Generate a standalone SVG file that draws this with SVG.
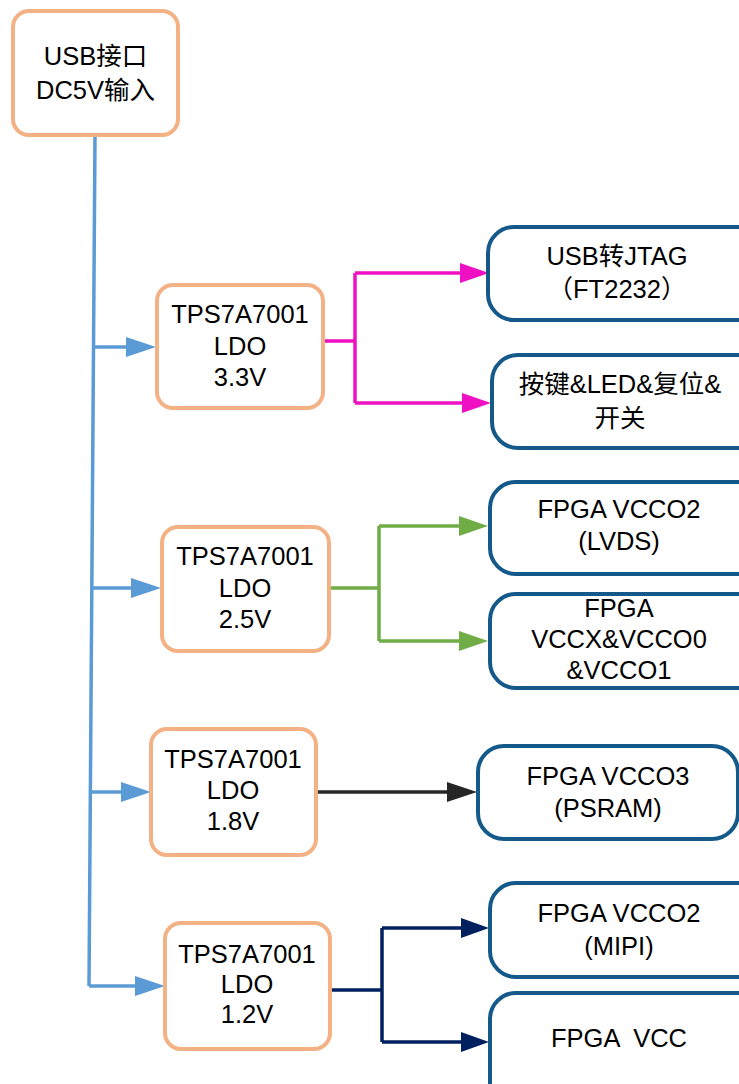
<svg xmlns="http://www.w3.org/2000/svg" width="739" height="1084" viewBox="0 0 739 1084">
<style>
.ldo{fill:#fff;stroke:#F4B183;stroke-width:4}
.tgt{fill:#fff;stroke:#15598A;stroke-width:4}
text{font-family:"Liberation Sans","Noto Sans CJK SC",sans-serif;font-size:25.5px;fill:#000;text-anchor:middle;white-space:pre}
.c{fill:none;stroke-width:3.5}
</style>
<defs>
<marker id="aBlue" markerUnits="userSpaceOnUse" markerWidth="30" markerHeight="20" refX="0" refY="10" orient="auto" overflow="visible"><path d="M0,0 L30,10 L0,20 z" fill="#5B9BD5"/></marker>
<marker id="aPink" markerUnits="userSpaceOnUse" markerWidth="30" markerHeight="20" refX="0" refY="10" orient="auto" overflow="visible"><path d="M0,0 L29,10 L0,20 z" fill="#EE10C2"/></marker>
<marker id="aGreen" markerUnits="userSpaceOnUse" markerWidth="30" markerHeight="20" refX="0" refY="10" orient="auto" overflow="visible"><path d="M0,0 L29,10 L0,20 z" fill="#70AD47"/></marker>
<marker id="aBlack" markerUnits="userSpaceOnUse" markerWidth="30" markerHeight="20" refX="0" refY="10" orient="auto" overflow="visible"><path d="M0,0 L30,10 L0,20 z" fill="#262626"/></marker>
<marker id="aNavy" markerUnits="userSpaceOnUse" markerWidth="30" markerHeight="20" refX="0" refY="10" orient="auto" overflow="visible"><path d="M0,0 L28,10 L0,20 z" fill="#002060"/></marker>
</defs>
<g id="connectors">
<path class="c" stroke="#5B9BD5" d="M95,136 L89,986"/>
<path class="c" stroke="#5B9BD5" d="M94.4,347 H126" marker-end="url(#aBlue)"/>
<path class="c" stroke="#5B9BD5" d="M92.7,588 H131" marker-end="url(#aBlue)"/>
<path class="c" stroke="#5B9BD5" d="M91.2,792 H121" marker-end="url(#aBlue)"/>
<path class="c" stroke="#5B9BD5" d="M89,986 H135" marker-end="url(#aBlue)"/>
<path class="c" stroke="#EE10C2" d="M323,341 H355 M355,273 V403"/>
<path class="c" stroke="#EE10C2" d="M355,273 H460" marker-end="url(#aPink)"/>
<path class="c" stroke="#EE10C2" d="M355,403 H462" marker-end="url(#aPink)"/>
<path class="c" stroke="#70AD47" d="M327,588 H379 M379,526 V641"/>
<path class="c" stroke="#70AD47" d="M379,526 H459" marker-end="url(#aGreen)"/>
<path class="c" stroke="#70AD47" d="M379,641 H459" marker-end="url(#aGreen)"/>
<path class="c" stroke="#262626" stroke-width="4" d="M316,792 H447" marker-end="url(#aBlack)"/>
<path class="c" stroke="#002060" d="M330,990 H382 M382,928 V1042"/>
<path class="c" stroke="#002060" d="M382,928 H461" marker-end="url(#aNavy)"/>
<path class="c" stroke="#002060" d="M382,1042 H461" marker-end="url(#aNavy)"/>
</g>
<g id="usb"><rect class="ldo" x="13" y="11" width="165" height="124" rx="16"/><text x="95.5" y="65">USB接口</text><text x="95.5" y="99">DC5V输入</text></g>
<g id="ldo33"><rect class="ldo" x="157" y="285" width="166" height="123" rx="16"/><text x="240" y="323">TPS7A7001</text><text x="240" y="355">LDO</text><text x="240" y="386">3.3V</text></g>
<g id="ldo25"><rect class="ldo" x="162" y="527" width="167" height="124" rx="16"/><text x="245" y="565">TPS7A7001</text><text x="245" y="597">LDO</text><text x="245" y="628">2.5V</text></g>
<g id="ldo18"><rect class="ldo" x="151" y="729" width="165" height="126" rx="16"/><text x="233" y="768">TPS7A7001</text><text x="233" y="799">LDO</text><text x="233" y="830">1.8V</text></g>
<g id="ldo12"><rect class="ldo" x="165" y="923" width="165" height="126" rx="16"/><text x="247" y="963">TPS7A7001</text><text x="247" y="993">LDO</text><text x="247" y="1023">1.2V</text></g>
<g id="jtag"><rect class="tgt" x="488" y="227" width="275" height="93" rx="26"/><text x="617" y="265">USB转JTAG</text><text x="617" y="298">（FT2232）</text></g>
<g id="keys"><rect class="tgt" x="492" y="355" width="275" height="93" rx="26"/><text x="620" y="393">按键&amp;LED&amp;复位&amp;</text><text x="620" y="427">开关</text></g>
<g id="lvds"><rect class="tgt" x="490" y="482" width="275" height="92" rx="26"/><text x="619" y="518">FPGA VCCO2</text><text x="619" y="550">(LVDS)</text></g>
<g id="vccx"><rect class="tgt" x="490" y="594" width="275" height="94" rx="26"/><text x="619" y="617">FPGA</text><text x="619" y="648">VCCX&amp;VCCO0</text><text x="619" y="679">&amp;VCCO1</text></g>
<g id="psram"><rect class="tgt" x="478" y="746" width="260" height="93" rx="26"/><text x="608" y="785">FPGA VCCO3</text><text x="608" y="817">(PSRAM)</text></g>
<g id="mipi"><rect class="tgt" x="490" y="883" width="275" height="94" rx="26"/><text x="619" y="922">FPGA VCCO2</text><text x="619" y="955">(MIPI)</text></g>
<g id="vcc"><rect class="tgt" x="490" y="993" width="275" height="120" rx="26"/><text x="619" y="1047" xml:space="preserve">FPGA  VCC</text></g>
</svg>
